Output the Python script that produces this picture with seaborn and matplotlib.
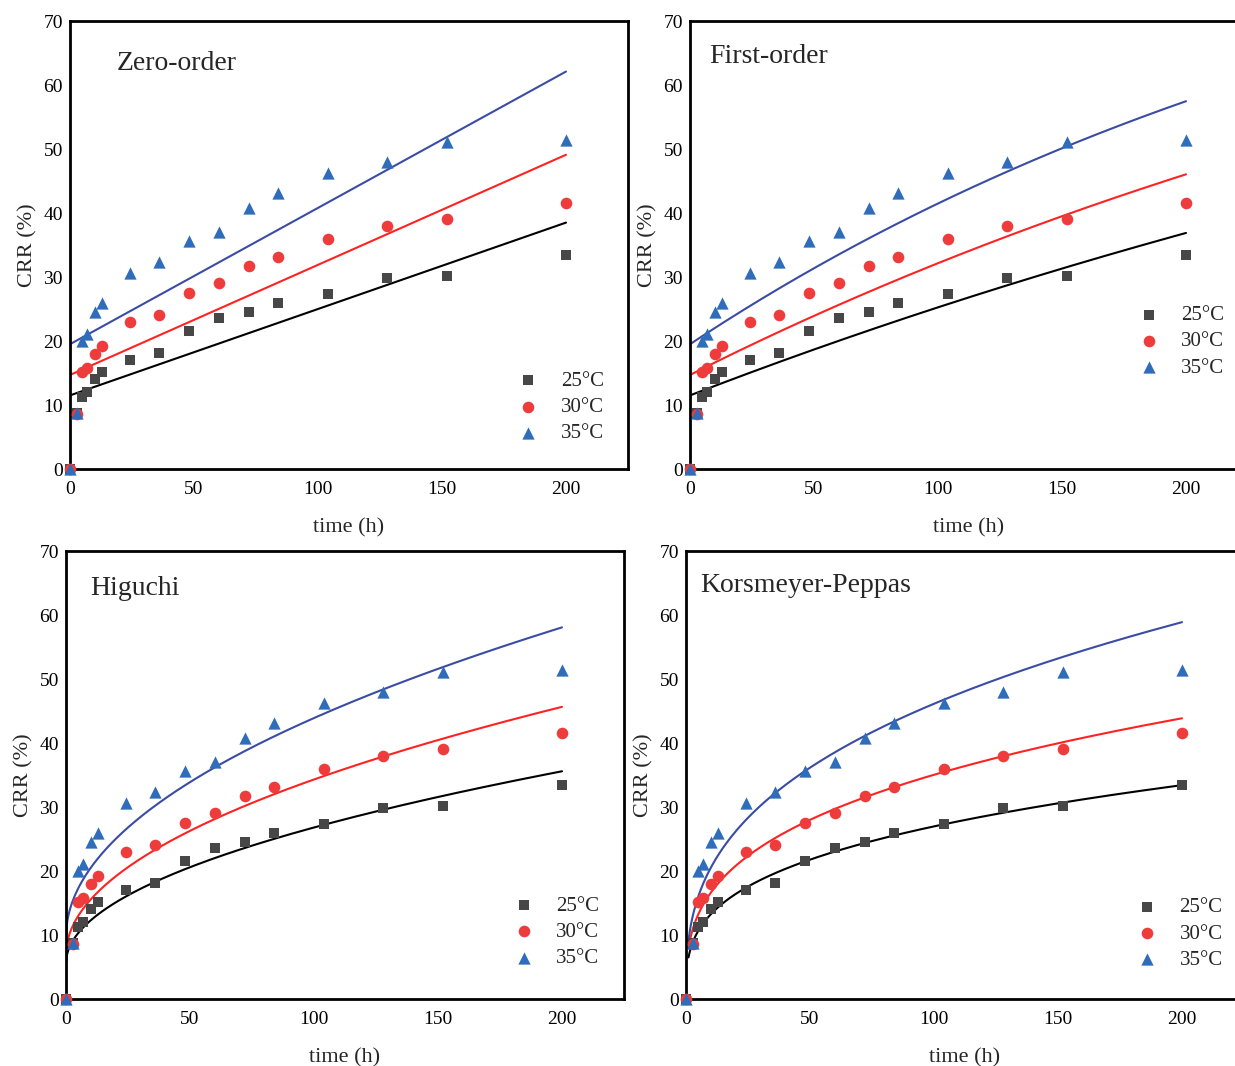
import numpy as np
import pandas as pd
import matplotlib
matplotlib.use("Agg")
import matplotlib.pyplot as plt
import seaborn as sns

sns.set_theme(style="white")
plt.rcParams["font.family"] = ["Liberation Serif", "DejaVu Serif"]

# Measured cumulative release ratio (CRR, %) over time (h)
time_h = [0, 3, 5, 7, 10, 13, 24, 36, 48, 60, 72, 84, 104, 128, 152, 200]
crr_25 = [0, 8.7, 11.2, 12.1, 14.0, 15.2, 17.1, 18.2, 21.6, 23.6, 24.6, 26.0, 27.3, 29.8, 30.2, 33.4]
crr_30 = [0, 8.6, 15.2, 15.8, 17.9, 19.2, 23.0, 24.0, 27.5, 29.0, 31.7, 33.1, 35.9, 37.9, 39.0, 41.5]
crr_35 = [0, 8.7, 20.0, 21.1, 24.5, 26.0, 30.7, 32.3, 35.6, 37.0, 40.8, 43.1, 46.3, 47.9, 51.1, 51.4]

temps = ["25°C", "30°C", "35°C"]

# Fitted model parameters, one entry per temperature (25, 30, 35 °C)
zero_q0 = [11.5, 14.7, 19.5]        # Q = q0 + k t
zero_k = [0.135, 0.172, 0.213]
first_q0 = [11.5, 14.7, 19.5]       # Q = 100 - (100 - q0) exp(-k t)
first_k = [0.00169, 0.00229, 0.00319]
higuchi_c = [5.6, 6.9, 9.7]         # Q = c + k sqrt(t)
higuchi_k = [2.12, 2.74, 3.42]
kp_k = [6.5, 7.88, 9.12]            # Q = k t^n
kp_n = [0.309, 0.324, 0.352]

panel_titles = ["Zero-order", "First-order", "Higuchi", "Korsmeyer-Peppas"]
x_ticks = [0, 50, 100, 150, 200]
y_ticks = [0, 10, 20, 30, 40, 50, 60, 70]

marker_colors = ["#474747", "#ee3b3b", "#2f6dbb"]
line_colors = ["#000000", "#ff2222", "#3a4ca3"]
markers = ["s", "o", "^"]
marker_sizes = [62, 70, 78]

measured = pd.DataFrame({
    "time": np.tile(time_h, 3),
    "CRR": np.concatenate([crr_25, crr_30, crr_35]),
    "temp": np.repeat(temps, len(time_h)),
})


def model_curve(panel, i, t):
    if panel == 0:
        return zero_q0[i] + zero_k[i] * t
    if panel == 1:
        return 100 - (100 - first_q0[i]) * np.exp(-first_k[i] * t)
    if panel == 2:
        return higuchi_c[i] + higuchi_k[i] * np.sqrt(t)
    return kp_k[i] * t ** kp_n[i]


W, H = 1235, 1066
fig = plt.figure(figsize=(W / 100, H / 100), dpi=100)

# (left, top, bottom) in pixels for each panel
boxes = [(70, 21, 469), (690, 21, 469), (66, 551, 999), (686, 551, 999)]
title_pos = [(0.084, 0.906), (0.034, 0.92), (0.043, 0.917), (0.025, 0.922)]
legend_pos = [(0.803, 0.218), (0.804, 0.365), (0.802, 0.230), (0.808, 0.226)]
ax_w = 558

for p, (left, top, bottom) in enumerate(boxes):
    ax = fig.add_axes([left / W, 1 - bottom / H, ax_w / W, (bottom - top) / H])

    t0 = 1.0 if p == 3 else 0.0
    t_fit = np.linspace(t0, 200, 400)
    fits = pd.DataFrame({
        "time": np.concatenate([t_fit] * 3),
        "CRR": np.concatenate([model_curve(p, i, t_fit) for i in range(3)]),
        "temp": np.repeat(temps, len(t_fit)),
    })
    for i, temp in enumerate(temps):
        sns.lineplot(data=fits[fits["temp"] == temp], x="time", y="CRR",
                     color=line_colors[i], linewidth=1.5, ax=ax,
                     legend=False, zorder=2)
    for i, temp in enumerate(temps):
        sns.scatterplot(data=measured[measured["temp"] == temp], x="time", y="CRR",
                        marker=markers[i], color=marker_colors[i],
                        s=marker_sizes[i], linewidth=0, ax=ax,
                        label=temp, clip_on=False, zorder=3)

    ax.set_xlim(0, 225)
    ax.set_ylim(0, 70)
    ax.set_xticks(x_ticks)
    ax.set_yticks(y_ticks)
    ax.tick_params(direction="in", length=7, width=2, labelsize=14,
                   colors="black", top=False, right=False)
    ax.tick_params(axis="x", pad=9)
    ax.tick_params(axis="y", pad=5)
    for sp in ax.spines.values():
        sp.set_linewidth(2)
        sp.set_color("black")
    ax.set_xlabel("time (h)", fontsize=16, labelpad=14)
    ax.set_ylabel("CRR (%)", fontsize=16, labelpad=4)
    ax.text(*title_pos[p], panel_titles[p], transform=ax.transAxes,
            fontsize=20, ha="left", va="center")
    ax.legend(loc="upper left", bbox_to_anchor=legend_pos[p], frameon=False,
              fontsize=15, handlelength=1.0, handletextpad=1.05,
              labelspacing=0.32, borderpad=0, borderaxespad=0)

fig.savefig("out.png", dpi=100)
